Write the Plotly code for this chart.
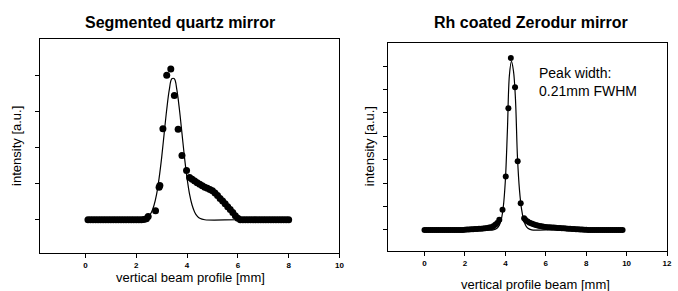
import plotly.graph_objects as go

# ---------------- Left panel: Segmented quartz mirror ----------------
left_dot_x = [0.1, 0.2, 0.3, 0.4, 0.5, 0.6, 0.7, 0.8, 0.9, 1.0, 1.1, 1.2, 1.3, 1.4, 1.5,
              1.6, 1.7, 1.8, 1.9, 2.0, 2.1, 2.2, 2.3, 2.4, 2.47, 2.76, 2.9, 2.93, 3.05,
              3.2, 3.36, 3.5, 3.65, 3.8, 3.98, 4.1, 4.2, 4.3, 4.4, 4.5, 4.6, 4.7, 4.8,
              4.9, 5.0, 5.1, 5.2, 5.3, 5.4, 5.5, 5.6, 5.7, 5.8, 5.9, 6.0, 6.1, 6.2, 6.3,
              6.4, 6.5, 6.6, 6.7, 6.8, 6.9, 7.0, 7.1, 7.2, 7.3, 7.4, 7.5, 7.6, 7.7, 7.8,
              7.9, 8.0]
left_dot_y = [0, 0, 0, 0, 0, 0, 0, 0, 0, 0, 0, 0, 0, 0, 0,
              0, 0, 0, 0, 0, 0, 0, 0.01, 0.03, 0.09, 0.25, 0.9, 0.95, 2.52,
              4.0, 4.17, 3.44, 2.5, 1.78, 1.36, 1.17, 1.12, 1.07, 1.02, 0.98, 0.94, 0.9, 0.87,
              0.84, 0.8, 0.74, 0.67, 0.59, 0.52, 0.44, 0.36, 0.28, 0.2, 0.11, 0.04, 0, 0, 0,
              0, 0, 0, 0, 0, 0, 0, 0, 0, 0, 0, 0, 0, 0, 0,
              0, 0]

left_fit_x = [0.1, 2.0, 2.3, 2.5, 2.6, 2.7, 2.8, 2.9, 3.0, 3.1, 3.2, 3.3, 3.4, 3.5, 3.6,
              3.7, 3.8, 3.9, 4.0, 4.1, 4.2, 4.3, 4.4, 4.5, 4.7, 6.0, 8.0]
left_fit_y = [0, 0, 0.02, 0.1, 0.21, 0.4, 0.7, 1.15, 1.72, 2.39, 3.05, 3.59, 3.9, 3.9, 3.59,
              3.05, 2.39, 1.72, 1.15, 0.7, 0.4, 0.21, 0.1, 0.04, 0, 0, 0]

# ---------------- Right panel: Rh coated Zerodur mirror ----------------
right_dot_x = [0.0, 0.1, 0.2, 0.3, 0.4, 0.5, 0.6, 0.7, 0.8, 0.9, 1.0, 1.1, 1.2, 1.3, 1.4,
               1.5, 1.6, 1.7, 1.8, 1.9, 2.0, 2.1, 2.2, 2.3, 2.4, 2.5, 2.6, 2.7, 2.8, 2.9,
               3.0, 3.1, 3.2, 3.3, 3.4, 3.5, 3.6, 3.7, 3.86, 4.02, 4.15, 4.27, 4.48, 4.61,
               4.76, 4.93, 5.0, 5.1, 5.2, 5.3, 5.4, 5.5, 5.6, 5.7, 5.8, 5.9, 6.0, 6.1, 6.2,
               6.3, 6.4, 6.5, 6.6, 6.7, 6.8, 6.9, 7.0, 7.1, 7.2, 7.3, 7.4, 7.5, 7.6, 7.7,
               7.8, 7.9, 8.0, 8.1, 8.2, 8.3, 8.4, 8.5, 8.6, 8.7, 8.8, 8.9, 9.0, 9.1, 9.2,
               9.3, 9.4, 9.5, 9.6, 9.7, 9.8]
right_dot_y = [0, 0, 0, 0, 0, 0, 0, 0, 0, 0, 0, 0, 0, 0, 0,
               0, 0, 0, 0, 0, 0.01, 0.02, 0.02, 0.03, 0.03, 0.04, 0.04, 0.05, 0.05, 0.06,
               0.07, 0.08, 0.1, 0.12, 0.16, 0.22, 0.3, 0.43, 0.86, 2.28, 5.2, 7.35, 6.1, 2.93,
               1.14, 0.5, 0.42, 0.36, 0.31, 0.27, 0.24, 0.21, 0.19, 0.17, 0.16, 0.14, 0.13, 0.12, 0.11,
               0.1, 0.1, 0.09, 0.08, 0.08, 0.07, 0.07, 0.06, 0.05, 0.05, 0.04, 0.04, 0.03, 0.03, 0.02,
               0.02, 0.01, 0.01, 0, 0, 0, 0, 0, 0, 0, 0, 0, 0, 0, 0,
               0, 0, 0, 0, 0, 0]

right_fit_x = [0.0, 3.0, 3.4, 3.6, 3.7, 3.8, 3.9, 4.0, 4.1, 4.2, 4.3, 4.4, 4.5, 4.6, 4.7,
               4.8, 4.9, 5.0, 5.1, 5.3, 6.0, 9.8]
right_fit_y = [0, 0, 0, 0.08, 0.2, 0.45, 1.0, 2.1, 4.2, 6.6, 7.2, 6.8, 5.6, 3.1, 1.7,
               0.9, 0.45, 0.2, 0.08, 0, 0, 0]

FONT = "Arial, Liberation Sans, sans-serif"

fig = go.Figure()
fig.add_trace(go.Scatter(x=left_fit_x, y=left_fit_y, mode="lines",
                         line=dict(color="black", width=1.2, shape="spline"),
                         xaxis="x", yaxis="y", hoverinfo="skip"))
fig.add_trace(go.Scatter(x=left_dot_x, y=left_dot_y, mode="markers",
                         marker=dict(color="black", size=7),
                         xaxis="x", yaxis="y"))
fig.add_trace(go.Scatter(x=right_fit_x, y=right_fit_y, mode="lines",
                         line=dict(color="black", width=1.2, shape="spline"),
                         xaxis="x2", yaxis="y2", hoverinfo="skip"))
fig.add_trace(go.Scatter(x=right_dot_x, y=right_dot_y, mode="markers",
                         marker=dict(color="black", size=6),
                         xaxis="x2", yaxis="y2"))

W, H = 678, 291
def px(x):
    return x / W
def py(y):
    return 1 - y / H

axis_common = dict(showline=True, linecolor="black", linewidth=1.3, mirror=True,
                   showgrid=False, zeroline=False, ticks="outside", ticklen=4,
                   tickwidth=1, tickcolor="black")

fig.update_layout(
    width=W, height=H,
    margin=dict(l=0, r=0, t=0, b=0),
    paper_bgcolor="white", plot_bgcolor="white",
    showlegend=False,
    font=dict(family=FONT, color="black"),
    xaxis=dict(domain=[px(40), px(342)], range=[-1.8, 10], tickvals=[0, 2, 4, 6, 8, 10],
               ticktext=["0", "2", "4", "6", "8", "10"],
               tickfont=dict(size=8, family=FONT, weight="bold"), anchor="y", **axis_common),
    yaxis=dict(domain=[py(253), py(39)], range=[-0.92, 5.0], tickvals=[0, 1, 2, 3, 4],
               showticklabels=False, anchor="x", **axis_common),
    xaxis2=dict(domain=[px(391), px(672)], range=[-1.8, 12], tickvals=[0, 2, 4, 6, 8, 10, 12],
                ticktext=["0", "2", "4", "6", "8", "10", "12"],
                tickfont=dict(size=8, family=FONT, weight="bold"), anchor="y2", **axis_common),
    yaxis2=dict(domain=[py(251), py(42.7)], range=[-0.9, 8.0], tickvals=[0, 1, 2, 3, 4, 5, 6, 7],
                showticklabels=False, anchor="x2", **axis_common),
)

annots = [
    dict(text="<b>Segmented quartz mirror</b>", x=px(181), y=py(23), size=16),
    dict(text="<b>Rh coated Zerodur mirror</b>", x=px(535), y=py(23), size=16),
    dict(text="vertical beam profile [mm]", x=px(192), y=py(277), size=13),
    dict(text="vertical profile beam [mm]", x=px(539), y=py(284), size=13),
]
for a in annots:
    fig.add_annotation(text=a["text"], x=a["x"], y=a["y"], xref="paper", yref="paper",
                       showarrow=False, xanchor="center", yanchor="middle",
                       font=dict(size=a["size"], family=FONT, color="black"))

fig.add_annotation(text="intensity [a.u.]", x=px(16), y=py(146), xref="paper", yref="paper",
                   showarrow=False, textangle=-90, xanchor="center", yanchor="middle",
                   font=dict(size=13, family=FONT, color="black"))
fig.add_annotation(text="intensity [a.u.]", x=px(372), y=py(146), xref="paper", yref="paper",
                   showarrow=False, textangle=-90, xanchor="center", yanchor="middle",
                   font=dict(size=13, family=FONT, color="black"))
fig.add_annotation(text="Peak width:<br>0.21mm FWHM", x=px(541), y=py(82), xref="paper",
                   yref="paper", showarrow=False, xanchor="left", yanchor="middle", align="left",
                   font=dict(size=14, family=FONT, color="black"))

fig.write_html("out.html", config={"displayModeBar": False},
               post_script="document.body.style.margin='0';document.body.style.overflow='hidden';")
